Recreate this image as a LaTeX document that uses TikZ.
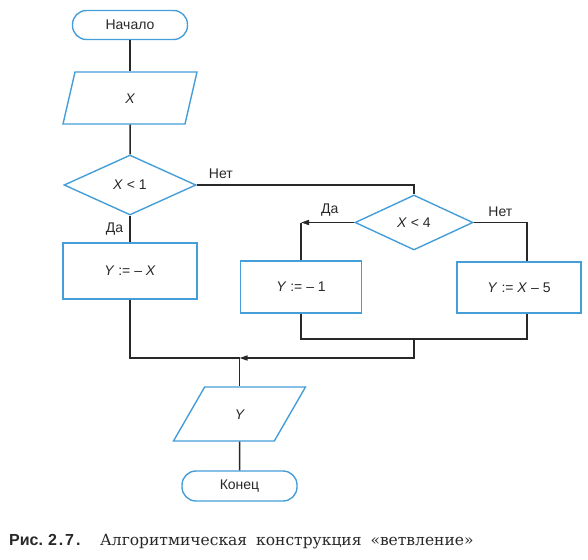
\documentclass[tikz,border=0pt]{standalone}
\usepackage{fontspec}
\setmainfont{Liberation Sans}
\newfontfamily\capserif{DejaVu Serif}
\usepackage{tikz}
\usetikzlibrary{shapes.geometric,arrows.meta,positioning,calc}
\definecolor{flowblue}{RGB}{70,158,216}
\definecolor{inkgray}{RGB}{40,40,40}
\newcommand{\blkfont}{\fontsize{14}{16}\selectfont}
\tikzset{
  blk/.style={draw=flowblue, line width=1.4pt, inner sep=0pt, text=inkgray, font=\blkfont},
  term/.style={blk, rectangle, rounded corners=14pt, minimum width=115pt, minimum height=29pt},
  io/.style={blk, trapezium, text height=10pt, text depth=0pt, trapezium stretches body=true},
  cond/.style={blk, diamond},
  act/.style={blk, rectangle},
  conn/.style={draw=inkgray, line width=1.5pt},
  lbl/.style={inner sep=0pt, text=inkgray, font=\blkfont},
}
\begin{document}
\begin{tikzpicture}[x=1pt, y=-1pt]
\useasboundingbox (0,0) rectangle (588,559);
% blocks
\node[term] (start) at (130,25) {Начало};
\node[io, trapezium left angle=77, trapezium right angle=103, inner ysep=21pt, minimum width=134pt] (inX) at (130,98) {\itshape X};
\node[cond, minimum width=132pt, minimum height=60pt] (c1) at (130,185) {\textit{X} < 1};
\node[act, minimum width=134pt, minimum height=56pt] (ymx) at (130,271) {\textit{Y} := – \textit{X}};
\node[cond, minimum width=118pt, minimum height=55pt] (c2) at (414,222.5) {\textit{X} < 4};
\node[act, minimum width=121pt, minimum height=52pt] (ym1) at (301,287) {\textit{Y} := – 1};
\node[act, minimum width=124pt, minimum height=51pt] (yx5) at (519,287.5) {\textit{Y} := \textit{X} – 5};
\node[io, trapezium left angle=60, trapezium right angle=120, inner ysep=22pt, minimum width=132pt] (outY) at (239.5,414) {\itshape Y};
\node[term, minimum height=30pt] (stop) at (239.5,486) {Конец};
% turning points
\coordinate (rt) at (527,222.5);
\coordinate (m1) at (414,339);
\coordinate (m2) at (239.5,358);
% connectors
\draw[conn] (start) -- (inX);
\draw[conn] (inX) -- (c1);
\draw[conn] (c1) -- node[lbl, left=6pt] {Да} (ymx);
\draw[conn] (c1.east) -| (c2.north);
\node[lbl, above right=6pt and 12pt of c1.east] (no1) {Нет};
\draw[conn, -{Triangle[length=8pt, width=5pt]}] (c2.west) -- node[lbl, above=5pt, pos=0.46] {Да} (c2.west -| ym1.north);
\draw[conn] (c2.west -| ym1.north) -- (ym1.north);
\draw[conn] (c2.east) -- node[lbl, above=5pt] {Нет} (rt) -- (rt |- yx5.north);
\draw[conn] (ym1.south) |- (m1) -| (rt |- yx5.south);
\draw[conn, -{Triangle[length=8pt, width=5pt]}] (m1) |- (m2);
\draw[conn] (ymx.south) |- (m2);
\draw[conn] (m2) -- (outY);
\draw[conn] (outY) -- (stop);
% caption
\node[anchor=base west, inner sep=0pt, text=inkgray, font=\fontsize{16}{18}\selectfont\bfseries] (figno) at (9,545) {Рис.\hspace{5pt}{\addfontfeature{LetterSpace=12}2.7.}};
\node[anchor=base west, inner sep=0pt, text=inkgray, font=\capserif\fontsize{15.5}{18}\selectfont] (figtxt) at (100,545) {Алгоритмическая\hspace{4pt} конструкция\hspace{4pt} «ветвление»};
\end{tikzpicture}
\end{document}
